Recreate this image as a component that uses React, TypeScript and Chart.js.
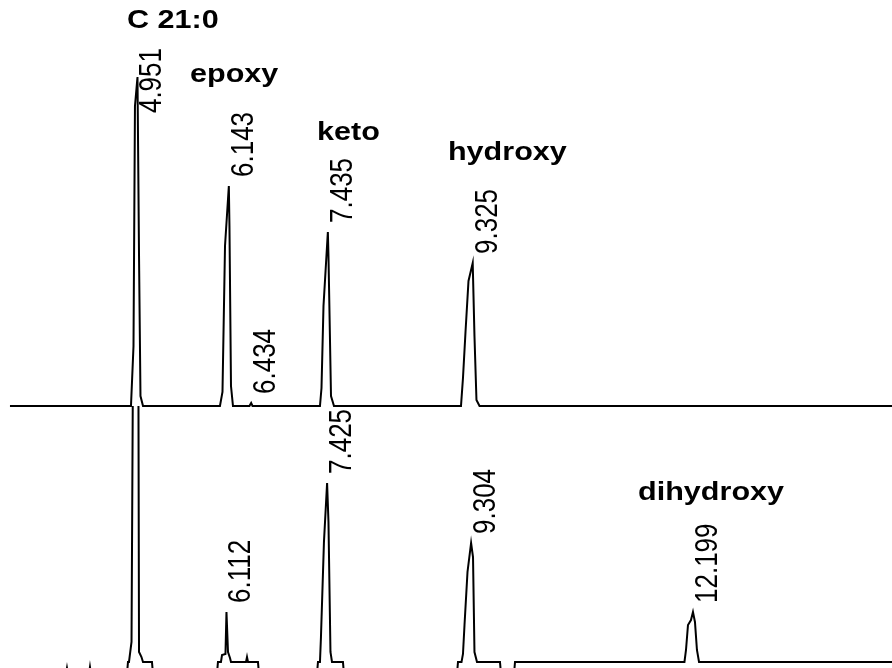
import React, { useEffect, useRef } from "react";
import { Chart, registerables } from "chart.js";

Chart.register(...registerables);

// Retention time axis (minutes)
const timeMin = 3.157;
const timeMax = 14.796;

// Upper chromatogram
const topTimes = [
  3.287,
  4.866, 4.899, 4.918, 4.951, 4.971, 4.99, 5.023,
  6.027, 6.06, 6.093, 6.143, 6.151, 6.171, 6.197,
  6.412, 6.434, 6.452,
  7.332, 7.352, 7.378, 7.435, 7.443, 7.476, 7.515,
  9.172, 9.198, 9.231, 9.27, 9.325, 9.348, 9.374, 9.414,
  14.796,
];
const topSignal = [
  0,
  0, 60, 300, 329, 150, 10, 0,
  0, 14, 160, 220, 180, 20, 0,
  0, 3, 0,
  0, 18, 100, 174, 150, 10, 0,
  0, 28, 74, 125, 143, 70, 6, 0,
  0,
];

// Lower chromatogram
const bottomTimes = [
  3.287, 4.018, 4.031, 4.044, 4.318, 4.331, 4.344, 4.814, 4.827,
  4.84, 4.873, 4.899, 4.925, 4.951, 4.958, 4.971, 4.984, 5.003, 5.023,
  5.14, 5.153, 5.988, 6.001,
  6.04, 6.054, 6.099, 6.112, 6.132, 6.158, 6.171,
  6.367, 6.38, 6.393, 6.523, 6.536, 7.293, 7.306,
  7.332, 7.345, 7.384, 7.425, 7.443, 7.469, 7.489,
  7.632, 7.645, 9.12, 9.133,
  9.179, 9.198, 9.218, 9.257, 9.304, 9.329, 9.348, 9.381,
  9.681, 9.694, 9.864, 9.877,
  12.088, 12.108, 12.134, 12.173, 12.199, 12.225, 12.251, 12.278,
  14.796,
];
const bottomSignal = [
  -12, -12, -6, -12, -12, -5, -12, -12, 0,
  0, 20, 400, 560, 600, 450, 10, 8, 5, 0,
  0, -12, -12, 0,
  0, 7, 8, 50, 10, 4, 0,
  0, 5, 0, 0, -12, -12, 0,
  0, 25, 120, 179, 140, 10, 0,
  0, -12, -12, 0,
  0, 8, 37, 90, 119, 105, 10, 0,
  0, -12, -12, 0,
  0, 12, 37, 42, 50, 40, 12, 0,
  0,
];

// Peak retention-time labels
const topLabelTimes = [4.951, 6.143, 6.434, 7.435, 9.325];
const topLabelHeights = [329, 220, 3, 174, 143];
const bottomLabelTimes = [6.112, 7.425, 9.304, 12.199];
const bottomLabelHeights = [50, 179, 119, 50];

// Compound names
const topNames = ["C 21:0", "epoxy", "keto", "hydroxy"];
const topNameTimes = [4.814, 5.636, 7.293, 9.002];
const topNameHeights = [378, 324, 266, 246];
const bottomNames = ["dihydroxy"];
const bottomNameTimes = [11.482];
const bottomNameHeights = [162];

const STRETCH = 1.21;

function annotationPlugin(
  labelTimes: number[],
  labelHeights: number[],
  names: string[],
  nameTimes: number[],
  nameHeights: number[],
  minTop: number
) {
  return {
    id: "annotations",
    afterDatasetsDraw(chart: any) {
      const ctx = chart.ctx as CanvasRenderingContext2D;
      const xs = chart.scales.x;
      const ys = chart.scales.y;
      ctx.save();
      ctx.fillStyle = "#000";
      // rotated retention times
      ctx.font = "26px 'Liberation Sans', Arial, sans-serif";
      ctx.textAlign = "left";
      ctx.textBaseline = "alphabetic";
      labelTimes.forEach((t, i) => {
        const text = t.toFixed(3);
        const px = xs.getPixelForValue(t);
        const py = ys.getPixelForValue(labelHeights[i]);
        const len = ctx.measureText(text).width;
        const startY = Math.max(py - 9, minTop + len);
        ctx.save();
        ctx.translate(px + 24, startY);
        ctx.scale(STRETCH, 1);
        ctx.rotate(-Math.PI / 2);
        ctx.fillText(text, 0, 0);
        ctx.restore();
      });
      // compound names
      ctx.font = "bold 25px 'Liberation Sans', Arial, sans-serif";
      names.forEach((n, i) => {
        const px = xs.getPixelForValue(nameTimes[i]);
        const py = ys.getPixelForValue(nameHeights[i]);
        ctx.save();
        ctx.translate(px, py);
        ctx.scale(STRETCH * 1.01, 1);
        ctx.fillText(n, 0, 0);
        ctx.restore();
      });
      ctx.restore();
    },
  };
}

function makeChart(
  canvas: HTMLCanvasElement,
  times: number[],
  signal: number[],
  yMin: number,
  yMax: number,
  plugin: any
) {
  return new Chart(canvas, {
    type: "line",
    data: {
      datasets: [
        {
          data: times.map((t, i) => ({ x: t, y: signal[i] })),
          borderColor: "#000",
          borderWidth: 2,
          pointRadius: 0,
          tension: 0,
          fill: false,
        },
      ],
    },
    options: {
      animation: false,
      responsive: false,
      events: [],
      layout: { padding: 0 },
      plugins: { legend: { display: false }, tooltip: { enabled: false } },
      scales: {
        x: { type: "linear", min: timeMin, max: timeMax, display: false },
        y: { min: yMin, max: yMax, display: false },
      },
    },
    plugins: [plugin],
  } as any);
}

export default function App() {
  const topRef = useRef<HTMLCanvasElement>(null);
  const bottomRef = useRef<HTMLCanvasElement>(null);

  useEffect(() => {
    const top = makeChart(
      topRef.current!,
      topTimes,
      topSignal,
      -14,
      406,
      annotationPlugin(topLabelTimes, topLabelHeights, topNames, topNameTimes, topNameHeights, 48)
    );
    const bottom = makeChart(
      bottomRef.current!,
      bottomTimes,
      bottomSignal,
      -6,
      256,
      annotationPlugin(bottomLabelTimes, bottomLabelHeights, bottomNames, bottomNameTimes, bottomNameHeights, 2)
    );
    return () => {
      top.destroy();
      bottom.destroy();
    };
  }, []);

  return (
    <div
      style={{
        position: "absolute",
        left: 0,
        top: 0,
        width: 892,
        height: 668,
        background: "#fff",
        overflow: "hidden",
      }}
    >
      <canvas
        ref={topRef}
        width={892}
        height={420}
        style={{ position: "absolute", left: 0, top: 0, width: 892, height: 420 }}
      />
      <canvas
        ref={bottomRef}
        width={892}
        height={262}
        style={{ position: "absolute", left: 0, top: 406, width: 892, height: 262 }}
      />
    </div>
  );
}
